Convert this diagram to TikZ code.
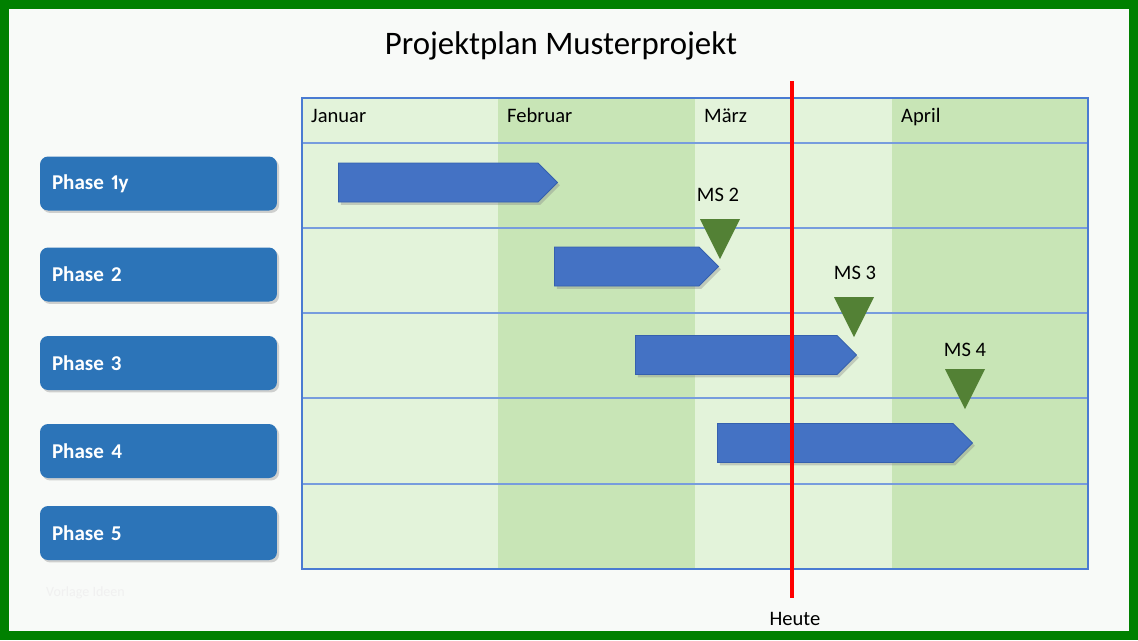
\documentclass[tikz,border=0pt]{standalone}
\usepackage{fontspec}
\setmainfont{Carlito}
\newfontfamily\phasefont{Carlito}[WordSpace=0.8, Numbers=Proportional]
\usepackage{tikz}
\usetikzlibrary{positioning, shapes.symbols, shapes.geometric, shadows}
\definecolor{gFrame}{HTML}{008000}
\definecolor{gPage}{HTML}{F8FAF8}
\definecolor{mLight}{HTML}{E3F3DA}
\definecolor{mDark}{HTML}{C8E5B6}
\definecolor{tLine}{HTML}{4A7BD2}
\definecolor{pBlue}{HTML}{2C74B8}
\definecolor{bBlue}{HTML}{4472C4}
\definecolor{bEdge}{HTML}{3560AE}
\definecolor{msGreen}{HTML}{538135}
\definecolor{hRed}{HTML}{FF0000}
\tikzset{
  phasebox/.style={fill=pBlue, rounded corners=0.16cm, minimum width=4.74cm,
    minimum height=1.08cm, text width=4.26cm, inner xsep=0.24cm, align=left,
    font=\phasefont\bfseries\fontsize{12}{14}\selectfont, text=white,
    drop shadow={shadow xshift=1.2pt, shadow yshift=-1.4pt, opacity=0.35}},
  barbox/.style={shape=signal, signal to=east, signal pointer angle=90,
    fill=bBlue, draw=bEdge, line width=0.5pt, inner sep=0pt, minimum height=0.78cm,
    anchor=west,
    drop shadow={shadow xshift=1.4pt, shadow yshift=-1.6pt, opacity=0.35}},
  milestone/.style={shape=isosceles triangle, shape border rotate=270,
    isosceles triangle stretches, fill=msGreen, inner sep=0pt,
    minimum width=0.8cm, minimum height=0.8cm, anchor=apex},
  mslabel/.style={font=\fontsize{11.7}{13}\selectfont},
  month/.style={font=\fontsize{11.7}{13}\selectfont, anchor=base west},
}

\begin{document}
\begin{tikzpicture}[x=0.02cm, y=-0.02cm]
  % page and frame
  \fill[gFrame] (0,0) rectangle (1138,640);
  \fill[gPage] (9,9) rectangle (1129,631);
  \node[font=\fontsize{18.7}{22}\selectfont] (title) at (561,46) {Projektplan Musterprojekt};
  \node[font=\fontsize{8}{9}\selectfont, text=black!6, anchor=west] (mark) at (40,593) {Vorlage Ideen};

  % month columns
  \fill[mLight] (302,98) rectangle (498,569);
  \fill[mDark] (498,98) rectangle (695,569);
  \fill[mLight] (695,98) rectangle (892,569);
  \fill[mDark] (892,98) rectangle (1088,569);
  \foreach \y in {143,228,313,398,484}
    \draw[tLine!75, line width=0.8pt] (302,\y) -- (1088,\y);
  \draw[tLine, line width=0.8pt] (302,98) rectangle (1088,569);

  \node[month] (jan) at (305,122) {Januar};
  \node[month] (feb) at (501,122) {Februar};
  \node[month] (mar) at (698,122) {März};
  \node[month] (apr) at (895,122) {April};

  % phases
  \node[phasebox] (phase1) at (158.5,183.5) {Phase 1y};
  \node[phasebox] (phase2) at (158.5,274.5) {Phase 2};
  \node[phasebox] (phase3) at (158.5,363) {Phase 3};
  \node[phasebox] (phase4) at (158.5,451) {Phase 4};
  \node[phasebox] (phase5) at (158.5,533) {Phase 5};

  % bars
  \node[barbox, minimum width=4.38cm] (bar1) at (338,182.5) {};
  \node[barbox, minimum width=3.28cm] (bar2) at (554,266.5) {};
  \node[barbox, minimum width=4.42cm] (bar3) at (635,355) {};
  \node[barbox, minimum width=5.10cm] (bar4) at (717,443) {};

  % milestones
  \node[milestone] (ms2) at (720,260) {};
  \node[milestone] (ms3) at (854,338) {};
  \node[milestone] (ms4) at (965,410) {};
  \node[mslabel] (ms2t) at (718,195) {MS 2};
  \node[mslabel] (ms3t) at (855,273) {MS 3};
  \node[mslabel] (ms4t) at (965,350) {MS 4};

  % today
  \coordinate (heuteTop) at (792,81);
  \coordinate (heuteBot) at (792,598);
  \draw[hRed, line width=1.8pt] (heuteTop) -- (heuteBot);
  \node[mslabel] (heute) at (795,619) {Heute};
\end{tikzpicture}
\end{document}
